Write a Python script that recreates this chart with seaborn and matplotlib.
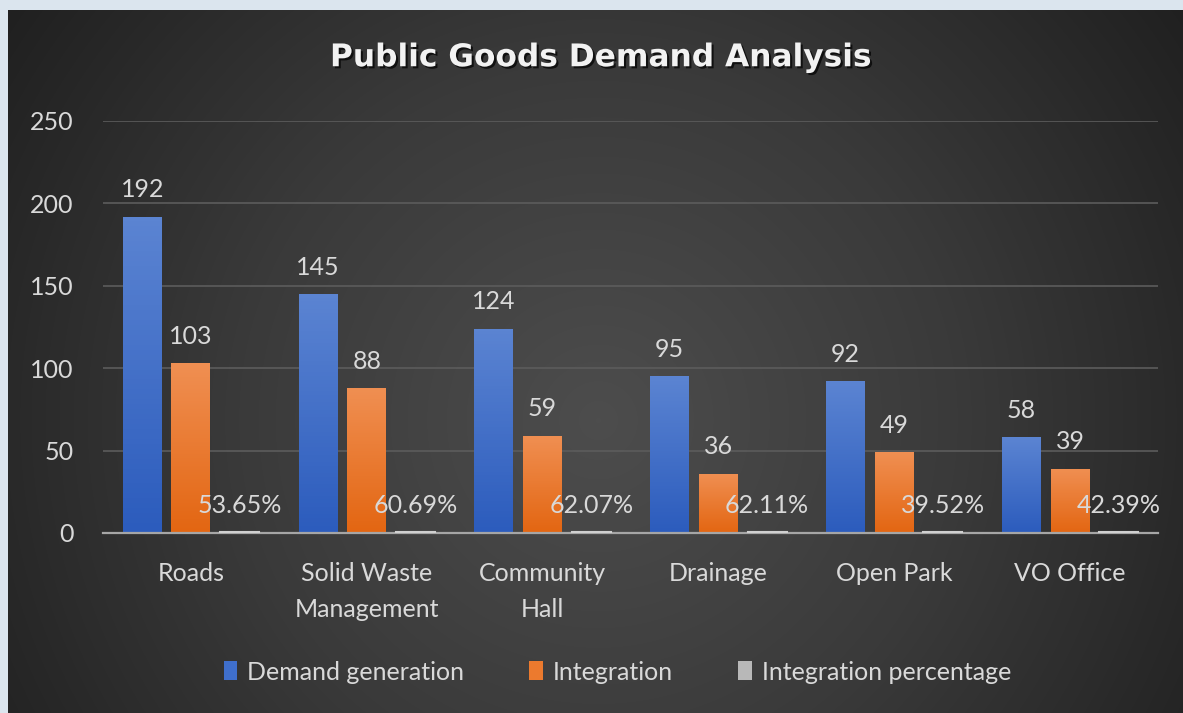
import numpy as np
import pandas as pd
import matplotlib
matplotlib.use('Agg')
import matplotlib.pyplot as plt
import matplotlib.patheffects as pe
from matplotlib.patches import Patch
from matplotlib.colors import LinearSegmentedColormap
import seaborn as sns

categories = ['Roads', 'Solid Waste\nManagement', 'Community\nHall', 'Drainage', 'Open Park', 'VO Office']
demand = [192, 145, 124, 95, 92, 58]
integration = [103, 88, 59, 36, 49, 39]
integration_pct = [0.5365, 0.6069, 0.6207, 0.6211, 0.3952, 0.4239]
series = ['Demand generation', 'Integration', 'Integration percentage']
y_ticks = [0, 50, 100, 150, 200, 250]

colors = {'Demand generation': '#3f6fcc', 'Integration': '#ec7a2e', 'Integration percentage': '#b8b8b8'}
grad = {
    'Demand generation': ('#2c5cbd', '#5b84d2'),
    'Integration': ('#e36612', '#f08f52'),
    'Integration percentage': ('#bfbfbf', '#d0d0d0'),
}

df = pd.DataFrame({
    'category': categories * 3,
    'series': [series[0]] * 6 + [series[1]] * 6 + [series[2]] * 6,
    'value': demand + integration + integration_pct,
})

sns.set_theme(style='dark')
plt.rcParams['font.family'] = ['Lato', 'DejaVu Sans']
txt = '#d9d9d9'

fig = plt.figure(figsize=(11.83, 7.13), dpi=100)
fig.patch.set_facecolor('#dbe5ee')

# dark radial background
bg = fig.add_axes([8 / 1183, 0, 1 - 8 / 1183, 1 - 10 / 713])
bg.set_axis_off()
yy, xx = np.mgrid[0:703, 0:1175]
r = np.sqrt((xx - 590) ** 2 + (yy - 410) ** 2)
r = np.clip(r / 760, 0, 1)
bgcmap = LinearSegmentedColormap.from_list('bg', ['#4d4d4d', '#3a3a3a', '#202020'])
bg.imshow(r, cmap=bgcmap, aspect='auto', extent=[0, 1, 0, 1], origin='upper')
bg.set_xlim(0, 1)
bg.set_ylim(0, 1)

ax = fig.add_axes([103 / 1183, 180 / 713, 1055 / 1183, 412 / 713])
ax.set_facecolor('none')
sns.barplot(data=df, x='category', y='value', hue='series', palette=colors,
            width=0.83, gap=0.2, ax=ax, legend=False, saturation=1, linewidth=0)

ax.set_ylim(0, 250)
ax.set_xlim(-0.5, 5.5)
ax.set_yticks(y_ticks)
ax.yaxis.grid(True, color='#5c5c5c', linewidth=1.2)
ax.xaxis.grid(False)
for s in ['top', 'right', 'left']:
    ax.spines[s].set_visible(False)
ax.spines['bottom'].set_color('#a6a6a6')
ax.spines['bottom'].set_linewidth(1.6)
ax.set_xlabel('')
ax.set_ylabel('')
ax.tick_params(axis='y', colors=txt, labelsize=18, length=0, pad=21)
ax.tick_params(axis='x', colors=txt, labelsize=18, length=0, pad=21)
for lbl in ax.get_xticklabels():
    lbl.set_linespacing(1.7)

# gradient fill on bars
for name, cont in zip(series, ax.containers):
    cm = LinearSegmentedColormap.from_list(name, list(grad[name]))
    for bar in cont:
        x0, y0 = bar.get_x(), bar.get_y()
        w, h = bar.get_width(), bar.get_height()
        im = ax.imshow(np.linspace(0, 1, 64).reshape(-1, 1), cmap=cm, aspect='auto',
                       extent=[x0, x0 + w, y0, y0 + h], origin='lower', zorder=bar.get_zorder() + 0.1)
        im.set_clip_path(bar)
# percentage bars are so small they show only as a light line on the axis
for bar in ax.containers[2]:
    bar.set_edgecolor('#d0d0d0')
    bar.set_linewidth(1.5)
    bar.set_zorder(4)
ax.set_xlim(-0.5, 5.5)
ax.set_ylim(0, 250)

ax.bar_label(ax.containers[0], labels=[str(v) for v in demand], padding=11, color=txt, fontsize=18, zorder=5)
ax.bar_label(ax.containers[1], labels=[str(v) for v in integration], padding=11, color=txt, fontsize=18, zorder=5)
ax.bar_label(ax.containers[2], labels=['%.2f%%' % (v * 100) for v in integration_pct],
             padding=11, color=txt, fontsize=18, zorder=5)

fig.text(0.508, 0.919, 'Public Goods Demand Analysis', ha='center', va='center',
         fontsize=22.5, fontweight='bold', color='#f2f2f2', family=['DejaVu Sans'],
         path_effects=[pe.SimplePatchShadow(offset=(1.5, -1.5), shadow_rgbFace='black', alpha=0.7), pe.Normal()])

handles = [Patch(facecolor=colors[s], edgecolor='none') for s in series]
leg = fig.legend(handles, series, loc='center', bbox_to_anchor=(0.522, 1 - 672 / 713), ncol=3,
                 frameon=False, fontsize=18, handlelength=0.55, handleheight=0.8,
                 handletextpad=0.4, columnspacing=2.6)
for t in leg.get_texts():
    t.set_color(txt)

fig.savefig('out.png', dpi=100, facecolor=fig.get_facecolor())
